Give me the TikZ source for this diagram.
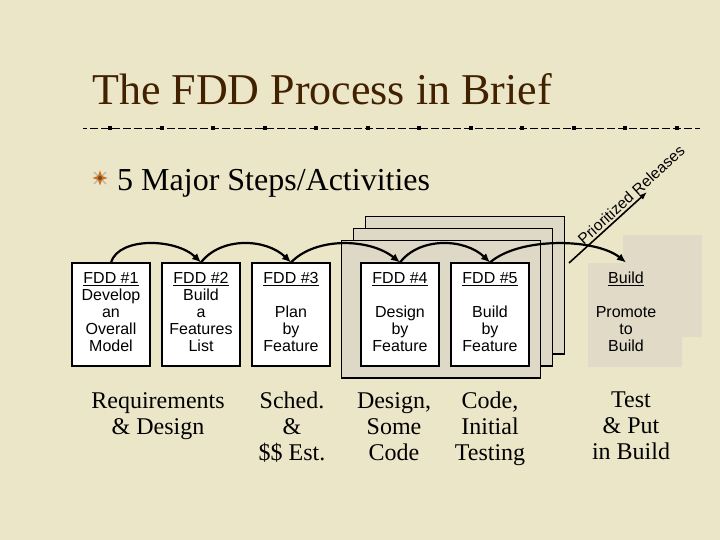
\documentclass[tikz,border=0pt]{standalone}
\usepackage{fontspec}
\setmainfont{Liberation Serif}
\newfontfamily\arialfont{Liberation Sans}
\usepackage{tikz}
\usetikzlibrary{arrows.meta, positioning}
\definecolor{parchment}{RGB}{236,230,201}
\definecolor{panelgrey}{RGB}{222,216,199}
\definecolor{titlebrown}{RGB}{66,33,0}
\definecolor{starorange}{RGB}{206,112,28}

\begin{document}
\begin{tikzpicture}[x=1pt, y=-1pt,
    fddbox/.style={draw, line width=1.1pt, fill=white, minimum width=78pt,
        minimum height=103pt, inner sep=0pt, align=center,
        font=\arialfont\fontsize{16}{17}\selectfont,
        execute at begin node=\strut, execute at end node=\strut},
    panel/.style={draw, line width=1.1pt, fill=panelgrey},
    flow/.style={line width=2.2pt, -{Latex[length=9pt,width=8pt]}},
    outcome/.style={anchor=north, inner sep=0pt, align=center,
        font=\fontsize{24}{26}\selectfont}]
    % Page and background
    \useasboundingbox (0,0) rectangle (720,540);
    \fill[parchment] (0,0) rectangle (720,540);
    % Title and rule
    \node[anchor=base west, inner sep=0pt, titlebrown,
        font=\fontsize{44}{48}\selectfont] (title) at (92,105)
        {The FDD Process in Brief};
    \draw[line width=0.9pt, dash pattern=on 8pt off 3pt, dash phase=4pt]
        (83,128) -- (700,128);
    \foreach \k in {0,...,11} {
        \fill ({108+51.5*\k},126) rectangle ++(4,4);
    }
    % Bullet
    \draw[gray!60, line width=1.3pt] (94,172) -- (106,184) (94,184) -- (106,172);
    \fill[starorange] (100,170.5) -- (102,176) -- (107.5,178) -- (102,180)
        -- (100,185.5) -- (98,180) -- (92.5,178) -- (98,176) -- cycle;
    \fill[brown!60!black] (100,178) circle (2);
    \node[anchor=base west, inner sep=0pt, font=\fontsize{32}{34}\selectfont]
        (steps) at (117,191) {5 Major Steps/Activities};
    % Stacked panels behind FDD #4 and #5
    \foreach \d in {24,12,0} {
        \draw[panel] ({341.7+\d},{240.7-\d}) rectangle ({540.7+\d},{378-\d});
    }
    % Build area
    \fill[panelgrey!85!parchment] (588,263) -- (623,263) -- (623,235) -- (702,235)
        -- (702,337) -- (682,337) -- (682,367) -- (588,367) -- cycle;
    % Process steps
    \node[fddbox] (fdd1) at (111,314.5)
        {\underline{FDD \#1}\\ Develop\\ an\\ Overall\\ Model};
    \node[fddbox] (fdd2) at (201,314.5)
        {\underline{FDD \#2}\\ Build\\ a\\ Features\\ List};
    \node[fddbox] (fdd3) at (291,314.5)
        {\underline{FDD \#3}\\ \mbox{}\\ Plan\\ by\\ Feature};
    \node[fddbox] (fdd4) at (400,314.5)
        {\underline{FDD \#4}\\ \mbox{}\\ Design\\ by\\ Feature};
    \node[fddbox] (fdd5) at (490,314.5)
        {\underline{FDD \#5}\\ \mbox{}\\ Build\\ by\\ Feature};
    \node[fddbox, draw=none, fill=none] (build) at (626,314.5)
        {\underline{Build}\\ \mbox{}\\ Promote\\ to\\ Build};
    % Flow between steps
    \draw[flow] (fdd1.north) .. controls +(8,-26) and +(-25,-24) .. (fdd2.north);
    \draw[flow] (fdd2.north) .. controls +(20,-26) and +(-25,-24) .. (fdd3.north);
    \draw[flow] (fdd3.north) .. controls +(25,-26) and +(-30,-24) .. (fdd4.north);
    \draw[flow] (fdd4.north) .. controls +(20,-26) and +(-25,-24) .. (fdd5.north);
    \draw[flow] (fdd5.north) .. controls +(30,-26) and +(-30,-24) .. (build.north);
    % Prioritized releases
    \coordinate (reltail) at (569,263);
    \coordinate (relhead) at (647,192);
    \draw[line width=1.6pt, -{Latex[length=8pt,width=6pt]}] (reltail) -- (relhead)
        node[pos=0.87, sloped, above, inner sep=2pt,
            font=\arialfont\fontsize{15.5}{17}\selectfont] (reltext)
        {Prioritized Releases};
    % Outcomes
    \node[outcome] (out1) at (158,392) {Requirements\\ \& Design};
    \node[outcome] (out2) at (292,392) {Sched.\\ \&\\ \$\$ Est.};
    \node[outcome] (out3) at (394,392) {Design,\\ Some\\ Code};
    \node[outcome] (out4) at (490,392) {Code,\\ Initial\\ Testing};
    \node[outcome] (out5) at (631,392) {Test\\ \& Put\\ in Build};
\end{tikzpicture}
\end{document}
